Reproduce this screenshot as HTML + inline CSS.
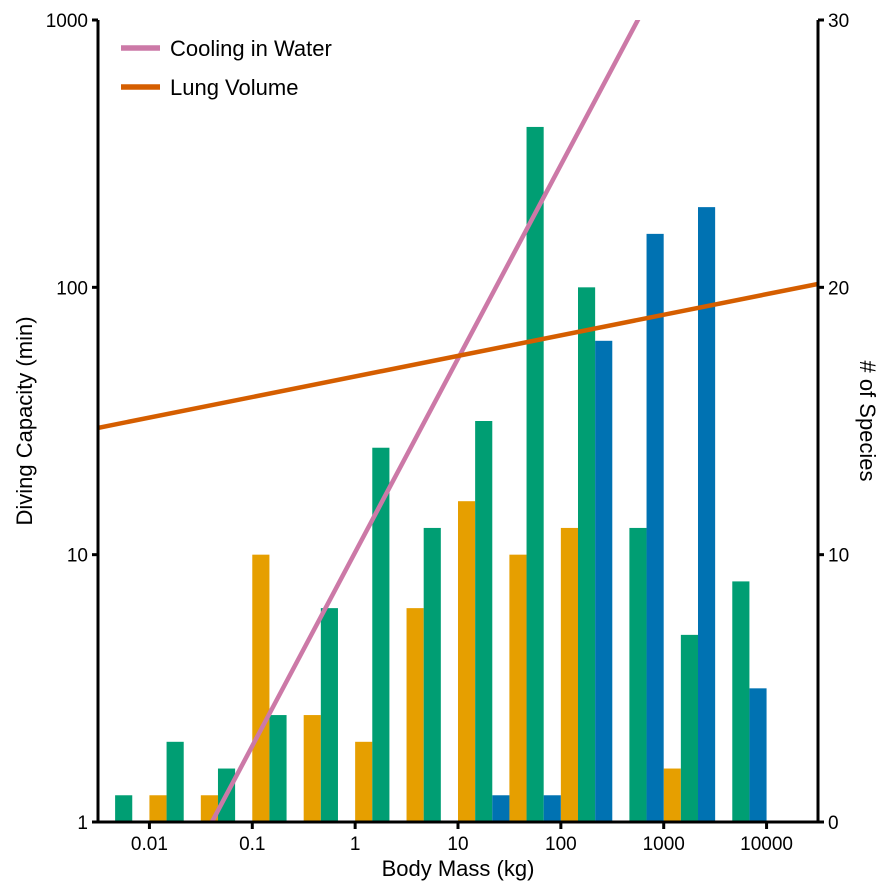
<!DOCTYPE html>
<html><head><meta charset="utf-8"><style>
html,body{margin:0;background:#fff;overflow:hidden;width:895px;height:895px}
svg{display:block}
svg text{font-family:"Liberation Sans",Arial,sans-serif;fill:#000}
</style></head><body>
<svg id="chart" width="895" height="895" style="position:absolute;left:0;top:0" xmlns="http://www.w3.org/2000/svg"></svg>
<script>
const binStarts = [0.00316,0.01,0.0316,0.1,0.316,1,3.16,10,31.6,100,316,1000,3162];
const smallMammals = [0,1,1,10,4,3,8,12,10,11,0,2,0];
const midMammals = [1,3,2,4,8,14,11,15,26,20,11,7,9];
const largeMammals = [0,0,0,0,0,0,0,1,1,18,22,23,5];
const coolingX = [0.0405, 560];
const coolingY = [1, 1000];
const lungX = [0.00316, 31623];
const lungY = [29.8, 103];
const xTicks = [0.01,0.1,1,10,100,1000,10000];
const xTickLabels = ["0.01","0.1","1","10","100","1000","10000"];
const yTicks = [1,10,100,1000];
const yTickLabels = ["1","10","100","1000"];
const y2Ticks = [0,10,20,30];
const y2TickLabels = ["0","10","20","30"];

const L=98,R=818,T=20,B=822;
const xMinLog=-2.5,xMaxLog=4.5;
const x = v => L+(Math.log10(v)-xMinLog)/(xMaxLog-xMinLog)*(R-L);
const y = v => B-Math.log10(v)/3*(B-T);
const y2 = v => B-v/30*(B-T);
const svg=document.getElementById('chart');
const NS='http://www.w3.org/2000/svg';
function mk(tag,attrs,parent){const e=document.createElementNS(NS,tag);for(const k in attrs)e.setAttribute(k,attrs[k]);(parent||svg).appendChild(e);return e;}

const defs=mk('defs',{});
const cp=mk('clipPath',{id:'clip'},defs);
mk('rect',{x:L,y:T,width:R-L,height:B-T},cp);

const binW=(R-L)/14, barW=binW/3;
const series=[[smallMammals,'#E69F00','small'],[midMammals,'#009E73','mid'],[largeMammals,'#0072B2','large']];
series.forEach((s,si)=>{
  s[0].forEach((c,i)=>{
    if(c<=0) return;
    const r=mk('rect',{x:x(binStarts[i])+si*barW,y:y2(c),width:barW,height:B-y2(c),fill:s[1]});
    
    
  });
});

const g=mk('g',{'clip-path':'url(#clip)'});
function powerLine(xs,ys,color,name){
  const b=(Math.log10(ys[1])-Math.log10(ys[0]))/(Math.log10(xs[1])-Math.log10(xs[0]));
  const f=m=>ys[0]*Math.pow(m/xs[0],b);
  const m0=Math.pow(10,xMinLog), m1=Math.pow(10,xMaxLog);
  const ln=mk('line',{x1:x(m0),y1:y(f(m0)),x2:x(m1),y2:y(f(m1)),stroke:color,'stroke-width':4.5},g);
  
  
}
powerLine(coolingX,coolingY,'#CC79A7','cooling-in-water-line');
powerLine(lungX,lungY,'#D55E00','lung-volume-line');

const ax=mk('g',{stroke:'#000','stroke-width':3});
mk('line',{x1:L,y1:T,x2:L,y2:B+1.5},ax);
mk('line',{x1:R,y1:T,x2:R,y2:B+1.5},ax);
mk('line',{x1:L-5,y1:B,x2:R+1.5,y2:B},ax);
xTicks.forEach((t,i)=>{
  mk('line',{x1:x(t),y1:B,x2:x(t),y2:B+7},ax);
  const tx=mk('text',{x:x(t),y:B+28,'font-size':19,'text-anchor':'middle'});tx.textContent=xTickLabels[i];
  
  
});
yTicks.forEach((t,i)=>{
  mk('line',{x1:L-6,y1:y(t),x2:L,y2:y(t)},ax);
  const tx=mk('text',{x:L-10,y:y(t)+7,'font-size':19,'text-anchor':'end'});tx.textContent=yTickLabels[i];
  
  
});
y2Ticks.forEach((t,i)=>{
  mk('line',{x1:R,y1:y2(t),x2:R+6,y2:y2(t)},ax);
  const tx=mk('text',{x:R+10,y:y2(t)+7,'font-size':19,'text-anchor':'start'});tx.textContent=y2TickLabels[i];
  
  
});
</script>
<svg width="895" height="895" style="position:absolute;left:0;top:0">
<text x="458" y="876" font-size="22" text-anchor="middle">Body Mass (kg)</text>
<text transform="translate(32,421) rotate(-90)" font-size="22" text-anchor="middle">Diving Capacity (min)</text>
<text transform="translate(860,421) rotate(90)" font-size="22" text-anchor="middle"># of Species</text>
<g>
<line x1="121" y1="48" x2="160" y2="48" stroke="#CC79A7" stroke-width="5.5"/>
<text x="170" y="56" font-size="22">Cooling in Water</text>
<line x1="121" y1="87" x2="160" y2="87" stroke="#D55E00" stroke-width="5.5"/>
<text x="170" y="95" font-size="22">Lung Volume</text>
</g>
</svg>
</body></html>
